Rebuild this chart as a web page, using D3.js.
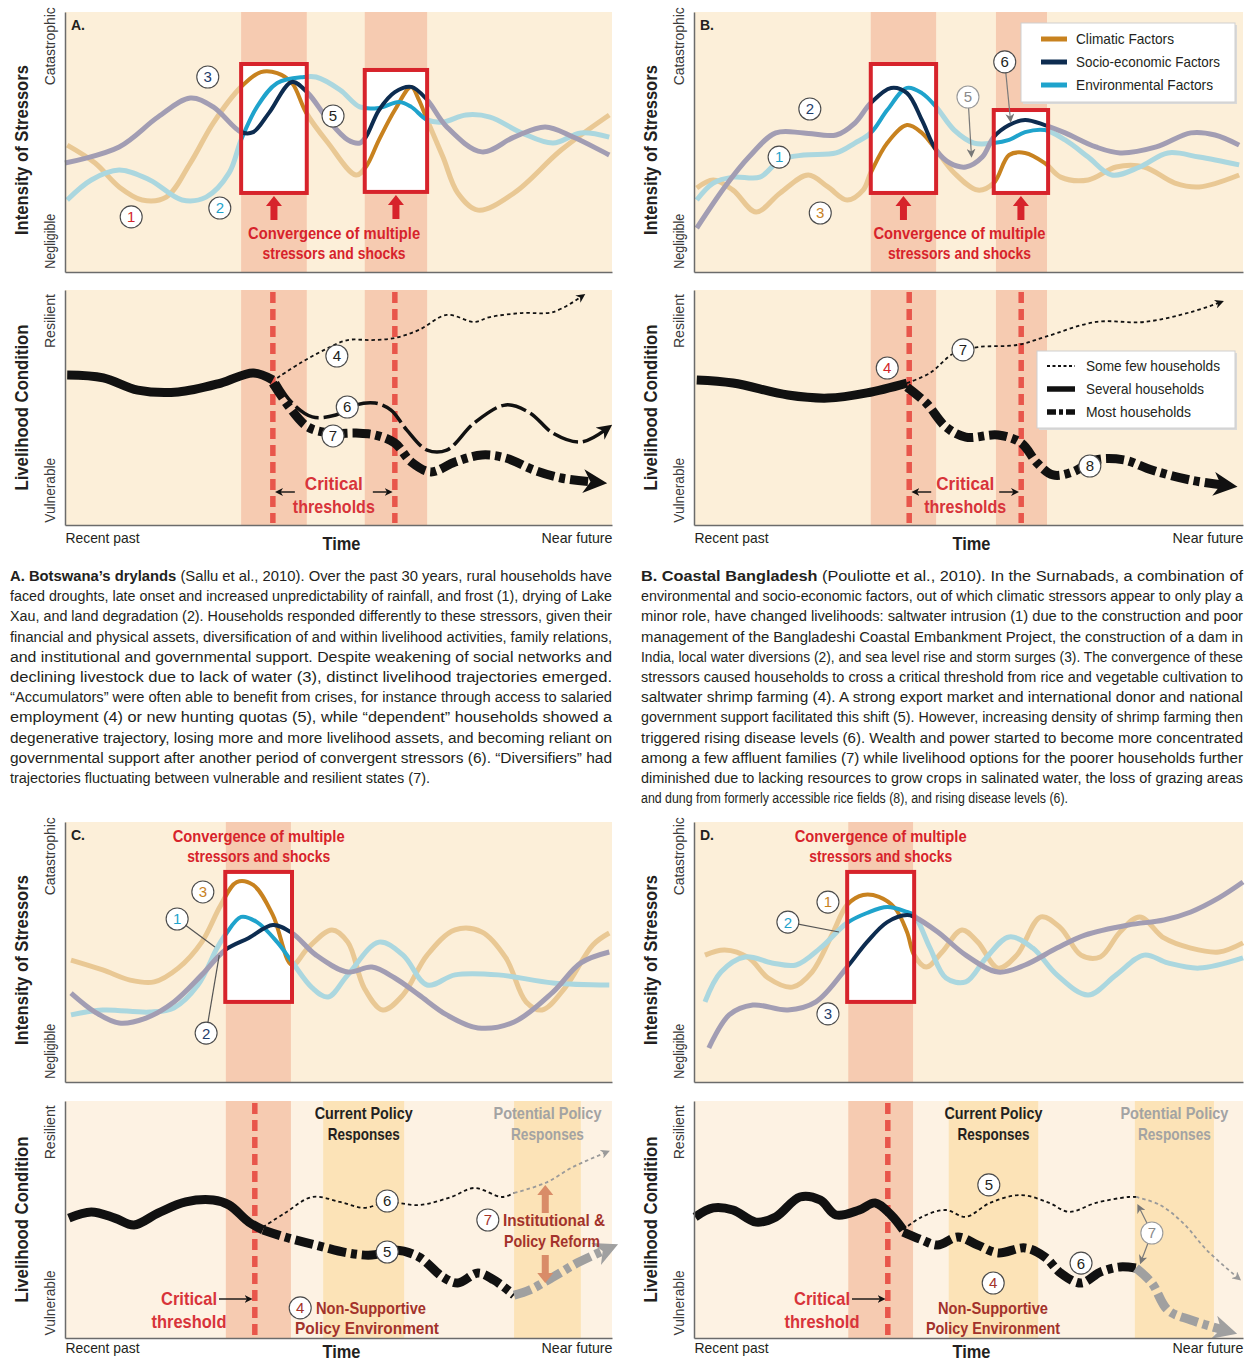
<!DOCTYPE html>
<html>
<head>
<meta charset="utf-8">
<script src="https://cdn.jsdelivr.net/npm/d3@7"></script>
<style>
  body { margin: 0; background: #fff; }
  svg text { font-family: "Liberation Sans Narrow", "Liberation Sans", Arial, sans-serif; }
</style>
</head>
<body>
<svg id="fig" width="1248" height="1361"></svg>
<script>
// ---- shared domains / tick labels
const timeDomain = [0, 100];
const levelDomain = [0, 100];
const stressTicks = [["Negligible", 12, 55], ["Catastrophic", 87, 78]];
const conditionTicks = [["Vulnerable", 15, 65], ["Resilient", 87, 54]];
const timeTicks = [["Recent past", 0], ["Near future", 100]];
const stressLegend = [["Climatic Factors", "climatic"], ["Socio-economic Factors", "socio"], ["Environmental Factors", "environmental"]];
const householdLegend = [["Some few households", "few"], ["Several households", "base"], ["Most households", "most"]];

// ---- A. Botswana's drylands  [time, level]
const aBands = [[32.2, 44.2], [54.8, 66.2]];
const aBoxes = [[32.2, 44.2, 30.4, 80.0], [54.8, 66.2, 30.8, 77.7]];
const aClimatic = [[0.4,48.8],[5.5,41.9],[9.9,32.7],[14.1,27.7],[18.5,28.8],[22.9,41.9],[27.1,57.3],[32.2,71.2],[35.8,76.9],[38.8,76.5],[41.5,72.7],[44.1,61.2],[48.1,49.6],[53.2,37.3],[55,40.4],[57.4,50.8],[60.3,62.3],[63.3,71.2],[64.7,66.2],[66.2,58.5],[69.1,44.2],[71.8,30.4],[75.5,23.8],[82.1,30.4],[90.7,46.9],[99.5,60.4]];
const aSocio = [[0,41.9],[9.9,48.1],[17,59.6],[22.9,66.9],[27.1,63.5],[32.2,53.8],[34.4,53.8],[37.3,61.2],[41.5,73.1],[44.4,68.8],[48.1,58.5],[51.7,50.8],[53.9,49.6],[55,51.9],[57.4,62.3],[60.3,69.2],[63.3,71.2],[66.2,66.2],[69.8,55.8],[76.2,46.2],[82.1,51.9],[87.8,55.8],[92.9,51.9],[99.5,45]];
const aEnvironmental = [[0.4,27.7],[4.8,35.4],[9.9,39.2],[15.5,35.4],[21.4,27.7],[25.8,28.8],[30,38.1],[32.2,50.8],[35.1,63.5],[38.8,72.7],[43.7,75],[45.9,75],[50.3,70],[53.9,63.5],[57.4,63.1],[61.1,65.4],[63.3,63.5],[66.2,58.5],[69.1,57.7],[73.3,60.4],[77.7,59.6],[83.5,53.5],[89.2,49.6],[94.3,53.5],[99.5,51.9]];
const aStressLabels = [["1",12.1,21.2,"red"],["2",28.3,24.6,"environmental"],["3",26.1,75,"socio"],["5",49,60,"black"]];
const aThresholds = [38, 60.3];
const aBase = [[0.4,63.8],[7,62.6],[13.3,57.4],[20.7,56.6],[28.5,60.4],[34.4,64.7],[38,61.7]];
const aFew = [[38.8,62.6],[43,68.9],[47.4,74.5],[51.7,78.7],[56.1,78.7],[60.3,79.6],[64.7,83],[69.8,89.4],[74.8,86.4],[77.7,88.5],[83.5,90.2],[89.2,90.6],[94.3,97]];
const aSeveral = [[38.8,60.9],[41.5,52],[45.2,46],[49.5,46.8],[53.2,51.1],[56.7,51.9],[59.6,48.9],[62.5,40.4],[66.2,31.9],[69.8,31.9],[74.8,43.4],[80.6,51.1],[85,47.7],[89.2,39.1],[94.3,35.3],[98.7,40.4]];
const aMost = [[38,60.4],[41,50.2],[44.4,41.7],[48.8,39.1],[53.2,39.1],[56.7,38.3],[60.3,34.9],[63.3,26.8],[66.9,22.6],[71.3,26.8],[76.2,29.8],[80.6,28.5],[85.7,23.4],[90.7,20],[96.5,18.3]];
const aConditionLabels = [["4",49.7,71.9,"black"],["6",51.6,50.2,"black"],["7",49,37.9,"black"]];

// ---- B. Coastal Bangladesh
const bBands = [[32.2, 44.1], [55.0, 64.3]];
const bBoxes = [[32.2, 44.1, 30.4, 80.0], [54.6, 64.5, 30.4, 62.3]];
const bClimatic = [[0.5,32.3],[3.5,35.4],[7.1,31.5],[11.3,23.1],[15.7,30.4],[20.8,37.3],[24.4,32.7],[27.9,27.7],[30.8,31.5],[32.2,38.1],[35.2,49.6],[38.8,56.5],[41.5,53.5],[44.1,46.9],[47.4,38.1],[51.7,31.5],[54.6,34.2],[57.4,45],[60.3,45.8],[63.9,41.9],[66.8,36.5],[71.8,35.4],[76.9,40.4],[82,40.4],[87.6,34.2],[92,32.7],[99.3,37.3]];
const bSocio = [[0.5,16.9],[5.6,32.7],[10,44.2],[14.9,53.5],[20,53.5],[25.9,52.7],[29.3,57.3],[32.2,65],[35.9,70.8],[38.8,68.8],[41.5,58.5],[44.1,46.9],[46.6,41.9],[49.5,40.4],[52.5,44.2],[54.6,51.9],[57.4,56.5],[60.3,58.5],[63.9,56.5],[67.6,53.5],[73.2,48.1],[77.6,45.8],[84.2,48.1],[90.5,53.5],[94.9,52.7],[99.3,48.8]];
const bEnvironmental = [[0.5,27.7],[3.5,34.2],[7.1,36.5],[12,36.5],[15.7,43.1],[20,45],[25.9,45.8],[29.3,49.6],[32.2,53.5],[35.2,62.3],[38.8,70.8],[41.5,68.8],[44.1,63.5],[47.4,54.6],[51,49.6],[54.6,49.6],[57.4,50.8],[60.3,53.8],[63.9,54.6],[67.6,50.8],[71.8,44.2],[76.1,37.3],[81.2,40.4],[86.3,45.8],[92,44.2],[99.3,41.2]];
const bStressLabels = [["1",15.5,44.2,"environmental"],["2",21.1,62.7,"socio"],["3",23,22.7,"climatic"],["5",49.9,67.3,"gray"],["6",56.6,80.8,"black"]];
const bPointers = [[49.9,67.3,50.5,46],[56.6,80.8,57.6,59.5]];
const bThresholds = [39.2, 59.6];
const bBase = [[0.5,61.7],[7.1,60.4],[17.1,55.3],[24.4,54],[31.5,56.2],[38.8,60.4]];
const bFew = [[38.8,60.4],[43,64.7],[47.4,73.2],[51.7,75.7],[58.8,76.6],[63.9,80],[73.2,86.4],[82,86.4],[90.5,90.6],[95.6,94.5]];
const bMost = [[38.8,58.7],[42.3,51.9],[45.9,41.7],[49.5,37.4],[55.4,38.3],[59.6,34.9],[62.5,26.4],[65.4,21.3],[69,22.6],[73.2,27.7],[78.3,27.7],[83.4,23.4],[90.5,19.1],[96.4,17]];
const bConditionLabels = [["4",35.2,66.8,"red"],["7",49,74.5,"black"],["8",72.1,25.1,"black"]];

// ---- C.
const cBands = [[29.4, 41.3]];
const cBoxes = [[29.3, 41.5, 30.8, 80.8]];
const cClimatic = [[1.1,46.9],[6.9,43.1],[11.9,39.2],[16.3,38.5],[20.7,43.8],[25,53.8],[28.5,68.1],[31.4,76.9],[34.4,75.8],[38,64.2],[41.5,45],[44.4,51.5],[48.8,58.5],[51.7,53.8],[54.7,36.2],[58.1,27.7],[61.8,33.5],[66.2,48.8],[71.3,58.5],[76.2,57.7],[80.6,47.7],[84.3,30.8],[87.2,27.7],[91.4,36.2],[96.5,52.7],[99.5,57.3]];
const cSocio = [[1.1,34.2],[5.5,26.9],[9.9,22.7],[14.8,24.6],[19.9,30.8],[25,41.2],[29.3,50.8],[33.6,55.4],[38,60.4],[41.5,57.3],[45.9,48.8],[51.7,42.3],[56.1,44.2],[60.3,40],[64.7,33.5],[69.8,25.8],[75.5,20.8],[82.1,23.1],[89.2,34.6],[94.3,45.8],[99.5,50]];
const cEnvironmental = [[1.1,25.8],[6.9,27.7],[15.5,26.9],[19.9,28.5],[24.3,37.3],[27.8,51.5],[29.3,56.5],[32.2,63.5],[35.1,61.5],[38.8,53.8],[41.5,46.2],[45.2,36.2],[48.1,32.7],[51.7,41.2],[57.4,53.8],[61.8,48.8],[66.2,37.3],[71.3,41.2],[79.2,41.2],[89.2,38.1],[99.5,37.3]];
const cStressLabels = [["1",20.5,62.7,"environmental"],["2",25.8,18.8,"socio"],["3",25.2,73.1,"climatic"]];
const cLeaders = [[20.5,62.7,27.4,51.9],[25.8,18.8,28.2,48.8]];
const cPolicyBands = [[47.2, 62], [82.1, 94.3]];
const cThresholds = [34.7];
const cBase = [[0.7,50.6],[4.8,53.2],[9.1,50.6],[12.6,47.7],[17,52.7],[22.1,57.4],[27.1,58.2],[30,56.1],[33.6,48.9],[36.2,45.6]];
const cFew = [[36.2,46.8],[40.2,52.7],[45.2,59.5],[50.3,57.4],[54.7,54.9],[58.9,57.4],[64.7,56.1],[70.6,59.5],[74.8,63.3],[79.9,59.5],[82.1,61.2]];
const cFewFuture = [[82.1,61.2],[87.8,65.4],[92.9,72.2],[98.7,78.1]];
const cMost = [[36.2,45.6],[40.2,42.6],[45.9,39.2],[51.7,35.9],[56.1,35],[60.3,37.1],[64.7,34.2],[69.1,25.7],[71.8,23.2],[75.5,27.4],[78.4,24.5],[82.1,18.1]];
const cMostFuture = [[82.1,18.1],[85,20.3],[89.2,25.7],[93.6,31.6],[98.7,37.1]];
const cConditionLabels = [["4",43,12.7,"policy"],["5",58.9,36.3,"black"],["6",58.9,57.8,"black"],["7",77.3,49.8,"policy"]];
const cReform = [[87.8,52.7,64.6],[87.8,35,23.2]];

// ---- D.
const dBands = [[28.1, 39.9]];
const dBoxes = [[27.9, 40.1, 30.8, 80.8]];
const dClimatic = [[2,48.8],[5.6,50.8],[10,47.7],[13.5,40],[17.9,36.5],[21.5,42.3],[25.1,56.5],[27.9,68.1],[30.8,71.9],[33.7,71.2],[36.6,66.9],[38.8,57.7],[40.1,48.8],[42.3,44.2],[45.2,50],[48.8,58.5],[51.7,53.8],[55.4,43.8],[58.8,48.8],[63.2,63.5],[66.8,59.2],[70.5,48.8],[74,48.1],[77.6,57.7],[81.2,63.5],[85.6,55.4],[90.5,51.5],[95.6,50],[100,53.5]];
const dSocio = [[2.7,13.1],[6.4,25.8],[10.7,29.6],[17.1,27.7],[22.2,30.8],[27.9,44.2],[31.5,53.8],[35.2,61.5],[38.8,64.2],[40.1,63.5],[44.4,57.7],[49.5,48.8],[55.4,42.3],[60.3,45],[66.1,51.5],[71.2,56.5],[79.1,60.4],[85.6,62.3],[90.5,65.4],[95.6,70.8],[100,76.9]];
const dEnvironmental = [[2,30.8],[4.9,42.3],[9.3,48.1],[14.2,45.8],[18.6,45],[23,51.5],[27.9,61.2],[31.5,65],[35.2,67.3],[38.8,65.4],[40.1,64.2],[43,51.5],[45.9,40],[49.5,38.5],[53.2,47.7],[57.4,55.8],[61.7,51.5],[66.1,41.2],[71.8,33.5],[76.9,41.2],[82,48.8],[86.3,45.8],[92,43.8],[100,47.7]];
const dStressLabels = [["1",24.4,69.2,"climatic"],["2",17.1,61.5,"environmental"],["3",24.4,26.2,"socio"]];
const dLeaders = [[17.1,61.5,26.4,57.7]];
const dPolicyBands = [[46.4, 62.7], [80.3, 94.7]];
const dThresholds = [35.3];
const dBase = [[0.2,51.1],[3.5,54.9],[7.1,54],[11.3,48.9],[14.9,51.1],[19.3,59.5],[23,58.2],[25.9,51.9],[30.1,54],[33,57],[35.9,51.9],[38.1,45.6]];
const dFew = [[38.1,45.6],[41.5,51.1],[45.9,54],[49.5,51.1],[53.9,57],[59.6,60.3],[64.7,57],[68.3,53.2],[73.2,57],[79.1,59.5],[80.5,59.5]];
const dFewFuture = [[80.5,59.5],[84.9,56.1],[89.1,48.5],[93.4,37.1],[98.9,25.7]];
const dMost = [[38.1,44.7],[41.5,41.4],[44.4,39.2],[48.1,42.6],[51.7,39.2],[55.4,35.9],[60.3,38],[63.9,34.2],[66.8,27.4],[70.5,23.2],[74,27.8],[77.6,30],[80.5,29.5]];
const dMostFuture = [[80.5,29.5],[83.4,23.2],[86.3,11.8],[90.5,7.6],[96.4,3.4]];
const dConditionLabels = [["4",54.5,23.2,"policy"],["5",53.7,64.6,"black"],["6",70.5,31.6,"black"],["7",83.4,44.3,"gray"]];
const dPointers = [[83.4,44.3,81.2,54.5],[83.4,44.3,81.6,33.3]];

// ---- captions
const captionA = [
  "**A. Botswana’s drylands** (Sallu et al., 2010).  Over the past 30 years, rural households have",
  "faced droughts, late onset and increased unpredictability of rainfall, and frost (1), drying of Lake",
  "Xau, and land degradation (2). Households responded differently to these stressors, given their",
  "financial and physical assets, diversification of and within livelihood activities, family relations,",
  "and institutional and governmental support. Despite weakening of social networks and",
  "declining livestock due to lack of water (3), distinct livelihood trajectories emerged.",
  "“Accumulators” were often able to benefit from crises, for instance through access to salaried",
  "employment (4) or new hunting quotas (5), while “dependent” households showed a",
  "degenerative trajectory, losing more and more livelihood assets, and becoming reliant on",
  "governmental support after another period of convergent stressors (6).  “Diversifiers” had",
  "trajectories fluctuating between vulnerable and resilient states (7)."
];
const captionB = [
  "**B. Coastal Bangladesh** (Pouliotte et al., 2010). In the Surnabads, a combination of",
  "environmental and socio-economic factors, out of which climatic stressors appear to only play a",
  "minor role, have changed livelihoods: saltwater intrusion (1) due to the construction and poor",
  "management of the Bangladeshi Coastal Embankment Project, the construction of a dam in",
  "India, local water diversions (2), and sea level rise and storm surges (3). The convergence of these",
  "stressors caused households to cross a critical threshold from rice and vegetable cultivation to",
  "saltwater shrimp farming (4). A strong export market and international donor and national",
  "government support facilitated this shift (5). However, increasing density of shrimp farming then",
  "triggered rising disease levels (6). Wealth and power started to become more concentrated",
  "among a few affluent families (7) while livelihood options for the poorer households further",
  "diminished due to lacking resources to grow crops in salinated water, the loss of grazing areas",
  "and dung from formerly accessible rice fields (8), and rising disease levels (6)."
];

// ---- look
const BG = "#fcefd9", BG_POLICY = "#fdf2e3", BAND = "#f6cbb1", POLICY_BAND = "#fce3b7", RED = "#d7232b";
const colors = {
  climatic: { strong: "#c8821f", faded: "#e9c894" },
  socio: { strong: "#0d2c50", faded: "#a29db3" },
  environmental: { strong: "#1fa3cc", faded: "#abd7df" }
};
const labelColors = { climatic: "#c8821f", socio: "#1f3d6b", environmental: "#1fa3cc", red: "#d3262b",
  policy: "#a3322b", black: "#231f20", gray: "#8a8a8a" };
const styles = {
  base: { w: 9, dash: null, color: "#111" },
  few: { w: 1.8, dash: "3.5,3", color: "#111", end: "arSmallK" },
  several: { w: 3.5, dash: "26,5", color: "#111", end: "arMedK" },
  most: { w: 9, dash: "18,5,6,5", color: "#111", end: "arBigK" },
  fewFuture: { w: 1.8, dash: "3.5,3", color: "#9a9a9a", end: "arSmallG" },
  mostFuture: { w: 9, dash: "18,5,6,5", color: "#a0a0a0", end: "arBigG" }
};
const frames = {
  A: { x: [65, 612], top: [12, 272], bot: [290, 525], pad: 7, time: 25 },
  B: { x: [694, 1243], top: [12, 272], bot: [290, 525], pad: 7, time: 25 },
  C: { x: [65, 612], top: [822, 1082], bot: [1101, 1338], pad: 4, time: 20 },
  D: { x: [694, 1243], top: [822, 1082], bot: [1101, 1338], pad: 4, time: 20 }
};

const svg = d3.select("#fig");
const defs = svg.append("defs");

function marker(id, color, size) {
  defs.append("marker").attr("id", id).attr("viewBox", "0 -5 10 10")
    .attr("refX", 4).attr("refY", 0).attr("markerUnits", "userSpaceOnUse")
    .attr("markerWidth", size).attr("markerHeight", size).attr("orient", "auto-start-reverse")
    .append("path").attr("d", "M0,-5L10,0L0,5L3,0Z").attr("fill", color);
}
marker("arSmallK", "#111", 9);
marker("arMedK", "#111", 15);
marker("arBigK", "#111", 24);
marker("arSmallG", "#9a9a9a", 9);
marker("arBigG", "#a0a0a0", 24);
marker("arPtr", "#777", 9);
marker("arTxt", "#111", 8);

function txt(g, s, x, y, o = {}) {
  const t = g.append("text").attr("x", x).attr("y", y).text(s)
    .attr("font-size", o.size || 15).attr("font-weight", o.weight || "normal")
    .attr("fill", o.fill || "#231f20").attr("text-anchor", o.anchor || "middle");
  if (o.width) t.attr("textLength", o.width).attr("lengthAdjust", "spacingAndGlyphs");
  if (o.rotate) t.attr("transform", `rotate(-90,${x},${y})`);
  return t;
}

function badges(g, x, y, list) {
  const b = g.selectAll(null).data(list).join("g")
    .attr("transform", d => `translate(${x(d[1])},${y(d[2])})`);
  b.append("circle").attr("r", 11).attr("fill", "#fff")
    .attr("stroke", d => d[3] === "gray" ? "#9a9a9a" : "#4a4a4a").attr("stroke-width", 1.1);
  b.append("text").attr("text-anchor", "middle").attr("dy", "0.36em").attr("font-size", 15)
    .attr("fill", d => labelColors[d[3]]).text(d => d[0]);
}

function pointers(g, x, y, list, color, withArrow) {
  g.selectAll(null).data(list).join("line")
    .attr("x1", d => x(d[0])).attr("y1", d => y(d[1])).attr("x2", d => x(d[2])).attr("y2", d => y(d[3]))
    .attr("stroke", color).attr("stroke-width", 1.2)
    .attr("marker-end", withArrow ? "url(#arPtr)" : null);
}

function leftAxis(g, f, y, ticks) {
  g.append("g").attr("transform", `translate(${f.x[0]},0)`)
    .call(d3.axisLeft(y).tickValues(ticks.map(d => d[1])).tickFormat((d, i) => ticks[i][0])
      .tickSize(0).tickSizeOuter(0))
    .call(a => {
      a.select(".domain").attr("stroke", "#6b6b6b").attr("stroke-width", 1.5);
      a.selectAll("text").attr("transform", "rotate(-90)").attr("x", 0).attr("y", -10).attr("dy", 0)
        .attr("text-anchor", "middle").attr("font-size", 15).attr("fill", "#3a3a3a")
        .attr("textLength", (d, i) => ticks[i][2]).attr("lengthAdjust", "spacingAndGlyphs");
    });
}

function stressPanel(key, letter, cfg) {
  const f = frames[key];
  const x = d3.scaleLinear().domain(timeDomain).range(f.x);
  const y = d3.scaleLinear().domain(levelDomain).range([f.top[1], f.top[0]]);
  const g = svg.append("g");
  const h = f.top[1] - f.top[0];
  g.append("rect").attr("x", f.x[0]).attr("y", f.top[0]).attr("width", f.x[1] - f.x[0]).attr("height", h).attr("fill", BG);
  g.selectAll(null).data(cfg.bands).join("rect")
    .attr("x", d => x(d[0])).attr("width", d => x(d[1]) - x(d[0])).attr("y", f.top[0]).attr("height", h).attr("fill", BAND);

  const line = d3.line().x(d => x(d[0])).y(d => y(d[1])).curve(d3.curveCatmullRom.alpha(0.5));
  const order = ["climatic", "environmental", "socio"];
  const boxRect = s => s.attr("x", d => x(d[0])).attr("y", d => y(d[3]))
    .attr("width", d => x(d[1]) - x(d[0])).attr("height", d => y(d[2]) - y(d[3]));

  g.selectAll(null).data(order).join("path").attr("d", k => line(cfg.series[k]))
    .attr("fill", "none").attr("stroke", k => colors[k].faded).attr("stroke-width", 5);
  g.selectAll(null).data(cfg.boxes).join("rect").call(boxRect).attr("fill", "#fff");
  const clipId = "clip" + key;
  defs.append("clipPath").attr("id", clipId).selectAll("rect").data(cfg.boxes).join("rect").call(boxRect);
  g.append("g").attr("clip-path", `url(#${clipId})`).selectAll("path").data(order).join("path")
    .attr("d", k => line(cfg.series[k])).attr("fill", "none")
    .attr("stroke", k => colors[k].strong).attr("stroke-width", 4);
  g.selectAll(null).data(cfg.boxes).join("rect").call(boxRect)
    .attr("fill", "none").attr("stroke", RED).attr("stroke-width", 4);

  // axes
  g.append("g").attr("transform", `translate(0,${f.top[1]})`)
    .call(d3.axisBottom(x).tickValues([]).tickSizeOuter(0))
    .call(a => a.select(".domain").attr("stroke", "#6b6b6b").attr("stroke-width", 1.5));
  leftAxis(g, f, y, stressTicks);
  txt(g, "Intensity of Stressors", f.x[0] - 37, (f.top[0] + f.top[1]) / 2 + 8,
    { size: 19, weight: "bold", rotate: true, width: 170 });
  txt(g, letter, f.x[0] + 6, f.top[0] + 18, { size: 15, weight: "bold", anchor: "start", width: 14 });

  // convergence note
  const mid = (x(d3.min(cfg.boxes, d => d[0])) + x(d3.max(cfg.boxes, d => d[1]))) / 2;
  if (cfg.noteBelow) {
    cfg.boxes.forEach(b => {
      const cx = (x(b[0]) + x(b[1])) / 2, tip = y(b[2]) + 3, tail = tip + 24;
      g.append("path").attr("fill", RED)
        .attr("d", `M${cx},${tip}L${cx + 8},${tip + 10}L${cx + 3.5},${tip + 10}L${cx + 3.5},${tail}L${cx - 3.5},${tail}L${cx - 3.5},${tip + 10}L${cx - 8},${tip + 10}Z`);
    });
    txt(g, "Convergence of multiple", mid, f.top[1] - 33, { size: 17, weight: "bold", fill: RED, width: 172 });
    txt(g, "stressors and shocks", mid, f.top[1] - 13, { size: 17, weight: "bold", fill: RED, width: 143 });
  } else {
    txt(g, "Convergence of multiple", mid, f.top[0] + 20, { size: 17, weight: "bold", fill: RED, width: 172 });
    txt(g, "stressors and shocks", mid, f.top[0] + 40, { size: 17, weight: "bold", fill: RED, width: 143 });
  }

  if (cfg.leaders) pointers(g, x, y, cfg.leaders, "#555", false);
  if (cfg.pointers) pointers(g, x, y, cfg.pointers, "#7a7a7a", true);
  badges(g, x, y, cfg.labels);

  if (cfg.legend) {
    const lx = 1021, ly = 23;
    g.append("rect").attr("x", lx + 2).attr("y", ly + 2).attr("width", 214).attr("height", 79).attr("fill", "#d9d9d9");
    g.append("rect").attr("x", lx).attr("y", ly).attr("width", 214).attr("height", 79).attr("fill", "#fff").attr("stroke", "#cfcfcf");
    const widths = [98, 144, 137];
    stressLegend.forEach((d, i) => {
      const yy = ly + 16 + i * 23;
      g.append("line").attr("x1", lx + 20).attr("x2", lx + 46).attr("y1", yy).attr("y2", yy)
        .attr("stroke", colors[d[1]].strong).attr("stroke-width", 5);
      txt(g, d[0], lx + 55, yy + 5, { size: 15, anchor: "start", width: widths[i] });
    });
  }
}

function conditionPanel(key, cfg) {
  const f = frames[key];
  const x = d3.scaleLinear().domain(timeDomain).range(f.x);
  const y = d3.scaleLinear().domain(levelDomain).range([f.bot[1], f.bot[0]]);
  const g = svg.append("g");
  const h = f.bot[1] - f.bot[0];
  g.append("rect").attr("x", f.x[0]).attr("y", f.bot[0]).attr("width", f.x[1] - f.x[0]).attr("height", h)
    .attr("fill", cfg.policyBands ? BG_POLICY : BG);
  g.selectAll(null).data(cfg.bands).join("rect")
    .attr("x", d => x(d[0])).attr("width", d => x(d[1]) - x(d[0])).attr("y", f.bot[0]).attr("height", h).attr("fill", BAND);
  if (cfg.policyBands) {
    g.selectAll(null).data(cfg.policyBands).join("rect")
      .attr("x", d => x(d[0])).attr("width", d => x(d[1]) - x(d[0])).attr("y", f.bot[0]).attr("height", h).attr("fill", POLICY_BAND);
  }
  g.selectAll(null).data(cfg.thresholds).join("line")
    .attr("x1", d => x(d)).attr("x2", d => x(d)).attr("y1", f.bot[0] + 2).attr("y2", f.bot[1] - 2)
    .attr("stroke", "#e8564b").attr("stroke-width", 5.5).attr("stroke-dasharray", "11,6");

  const line = d3.line().x(d => x(d[0])).y(d => y(d[1])).curve(d3.curveCatmullRom.alpha(0.5));
  g.selectAll(null).data(cfg.lines).join("path")
    .attr("d", d => line(d[1])).attr("fill", "none")
    .attr("stroke", d => styles[d[0]].color).attr("stroke-width", d => styles[d[0]].w)
    .attr("stroke-dasharray", d => styles[d[0]].dash)
    .attr("marker-end", d => d[2] ? `url(#${styles[d[0]].end})` : null);

  // axes
  g.append("g").attr("transform", `translate(0,${f.bot[1]})`)
    .call(d3.axisBottom(x).tickValues(timeTicks.map(d => d[1])).tickFormat((d, i) => timeTicks[i][0])
      .tickSize(0).tickSizeOuter(0).tickPadding(f.pad))
    .call(a => {
      a.select(".domain").attr("stroke", "#6b6b6b").attr("stroke-width", 1.5);
      a.selectAll("text").attr("font-size", 15).attr("fill", "#231f20")
        .attr("text-anchor", (d, i) => i === 0 ? "start" : "end")
        .attr("textLength", (d, i) => i === 0 ? 74 : 71).attr("lengthAdjust", "spacingAndGlyphs");
    });
  leftAxis(g, f, y, conditionTicks);
  txt(g, "Time", (f.x[0] + f.x[1]) / 2 + 3, f.bot[1] + f.time, { size: 18, weight: "bold", width: 38 });
  txt(g, "Livelihood Condition", f.x[0] - 37, (f.bot[0] + f.bot[1]) / 2, { size: 19, weight: "bold", rotate: true, width: 166 });

  if (cfg.pointers) pointers(g, x, y, cfg.pointers, "#7a7a7a", true);
  badges(g, x, y, cfg.labels);
  if (cfg.extra) cfg.extra(g, x, y, f);
}

function thresholdNote(g, x, th) {
  const mid = (x(th[0]) + x(th[1])) / 2;
  txt(g, "Critical", mid, 490, { size: 19, weight: "bold", fill: "#d8343a", width: 58 });
  txt(g, "thresholds", mid, 513, { size: 19, weight: "bold", fill: "#d8343a", width: 82 });
  g.append("line").attr("x1", x(th[0]) + 22).attr("x2", x(th[0]) + 7).attr("y1", 492).attr("y2", 492)
    .attr("stroke", "#111").attr("stroke-width", 1.4).attr("marker-end", "url(#arTxt)");
  g.append("line").attr("x1", x(th[1]) - 22).attr("x2", x(th[1]) - 7).attr("y1", 492).attr("y2", 492)
    .attr("stroke", "#111").attr("stroke-width", 1.4).attr("marker-end", "url(#arTxt)");
}

function policyNotes(g, x, bands, th, critX, nonSupport) {
  const c0 = x((bands[0][0] + bands[0][1]) / 2), c1 = x((bands[1][0] + bands[1][1]) / 2);
  txt(g, "Current Policy", c0, 1119, { size: 17, weight: "bold", width: 98 });
  txt(g, "Responses", c0, 1140, { size: 17, weight: "bold", width: 72 });
  txt(g, "Potential Policy", c1, 1119, { size: 17, weight: "bold", fill: "#a3a3a3", width: 108 });
  txt(g, "Responses", c1, 1140, { size: 17, weight: "bold", fill: "#a3a3a3", width: 73 });
  txt(g, "Critical", critX, 1305, { size: 19, weight: "bold", fill: "#d8343a", width: 56 });
  txt(g, "threshold", critX, 1328, { size: 19, weight: "bold", fill: "#d8343a", width: 75 });
  g.append("line").attr("x1", critX + 30).attr("x2", x(th[0]) - 7).attr("y1", 1299).attr("y2", 1299)
    .attr("stroke", "#111").attr("stroke-width", 1.4).attr("marker-end", "url(#arTxt)");
  nonSupport(g);
}

// ---- panel A
stressPanel("A", "A.", {
  bands: aBands, boxes: aBoxes, noteBelow: true,
  series: { climatic: aClimatic, socio: aSocio, environmental: aEnvironmental },
  labels: aStressLabels
});
conditionPanel("A", {
  bands: aBands, thresholds: aThresholds,
  lines: [["base", aBase], ["few", aFew, true], ["several", aSeveral, true], ["most", aMost, true]],
  labels: aConditionLabels,
  extra: (g, x) => thresholdNote(g, x, aThresholds)
});

// ---- panel B
stressPanel("B", "B.", {
  bands: bBands, boxes: bBoxes, noteBelow: true, legend: true,
  series: { climatic: bClimatic, socio: bSocio, environmental: bEnvironmental },
  labels: bStressLabels, pointers: bPointers
});
conditionPanel("B", {
  bands: bBands, thresholds: bThresholds,
  lines: [["base", bBase], ["few", bFew, true], ["most", bMost, true]],
  labels: bConditionLabels,
  extra: (g, x) => {
    thresholdNote(g, x, bThresholds);
    const lx = 1037, ly = 351;
    g.append("rect").attr("x", lx + 2).attr("y", ly + 2).attr("width", 198).attr("height", 77).attr("fill", "#d9d9d9");
    g.append("rect").attr("x", lx).attr("y", ly).attr("width", 198).attr("height", 77).attr("fill", "#fff").attr("stroke", "#cfcfcf");
    const widths = [134, 118, 105];
    householdLegend.forEach((d, i) => {
      const yy = ly + 15 + i * 23, k = d[1];
      g.append("line").attr("x1", lx + 10).attr("x2", lx + 38).attr("y1", yy).attr("y2", yy)
        .attr("stroke", "#111").attr("stroke-width", k === "few" ? 1.8 : 5.5)
        .attr("stroke-dasharray", k === "few" ? "3,2.5" : k === "most" ? "9,3,4,3" : null);
      txt(g, d[0], lx + 49, yy + 5, { size: 15, anchor: "start", width: widths[i] });
    });
  }
});

// ---- panel C
stressPanel("C", "C.", {
  bands: cBands, boxes: cBoxes, noteBelow: false,
  series: { climatic: cClimatic, socio: cSocio, environmental: cEnvironmental },
  labels: cStressLabels, leaders: cLeaders
});
conditionPanel("C", {
  bands: cBands, policyBands: cPolicyBands, thresholds: cThresholds,
  lines: [["base", cBase], ["few", cFew, false], ["fewFuture", cFewFuture, true], ["most", cMost, false], ["mostFuture", cMostFuture, true]],
  labels: cConditionLabels,
  extra: (g, x, y) => {
    policyNotes(g, x, cPolicyBands, cThresholds, 189, gg => {
      txt(gg, "Non-Supportive", 316, 1314, { size: 17, weight: "bold", fill: "#a3322b", anchor: "start", width: 110 });
      txt(gg, "Policy Environment", 367, 1334, { size: 17, weight: "bold", fill: "#a3322b", width: 144 });
    });
    txt(g, "Institutional &", 554, 1226, { size: 17, weight: "bold", fill: "#a3322b", width: 102 });
    txt(g, "Policy Reform", 552, 1247, { size: 17, weight: "bold", fill: "#a3322b", width: 96 });
    cReform.forEach(r => {
      const cx = x(r[0]), tail = y(r[1]), tip = y(r[2]), s = tip < tail ? 1 : -1;
      g.append("path").attr("fill", "#d98c68")
        .attr("d", `M${cx},${tip}L${cx + 8},${tip + s * 10}L${cx + 3.5},${tip + s * 10}L${cx + 3.5},${tail}L${cx - 3.5},${tail}L${cx - 3.5},${tip + s * 10}L${cx - 8},${tip + s * 10}Z`);
    });
  }
});

// ---- panel D
stressPanel("D", "D.", {
  bands: dBands, boxes: dBoxes, noteBelow: false,
  series: { climatic: dClimatic, socio: dSocio, environmental: dEnvironmental },
  labels: dStressLabels, leaders: dLeaders
});
conditionPanel("D", {
  bands: dBands, policyBands: dPolicyBands, thresholds: dThresholds,
  lines: [["base", dBase], ["few", dFew, false], ["fewFuture", dFewFuture, true], ["most", dMost, false], ["mostFuture", dMostFuture, true]],
  labels: dConditionLabels, pointers: dPointers,
  extra: (g, x) => {
    policyNotes(g, x, dPolicyBands, dThresholds, 822, gg => {
      txt(gg, "Non-Supportive", 993, 1314, { size: 17, weight: "bold", fill: "#a3322b", width: 110 });
      txt(gg, "Policy Environment", 993, 1334, { size: 17, weight: "bold", fill: "#a3322b", width: 134 });
    });
  }
});

// ---- captions (the narrow face is drawn by squeezing a regular one)
function caption(lines, x0, width, lastWidth) {
  const k = 0.86;
  const g = svg.append("g").attr("transform", `translate(${x0},0) scale(${k},1)`);
  lines.forEach((ln, i) => {
    const t = g.append("text").attr("x", 0).attr("y", 581 + i * 20.2)
      .attr("font-size", 15.5).attr("fill", "#231f20");
    ln.split("**").forEach((part, j) => {
      if (part) t.append("tspan").attr("font-weight", j % 2 ? "bold" : "normal").text(part);
    });
    t.attr("textLength", (i === lines.length - 1 ? lastWidth : width) / k).attr("lengthAdjust", "spacingAndGlyphs");
  });
}
caption(captionA, 10, 602, 420);
caption(captionB, 641, 602, 427);
</script>
</body>
</html>
